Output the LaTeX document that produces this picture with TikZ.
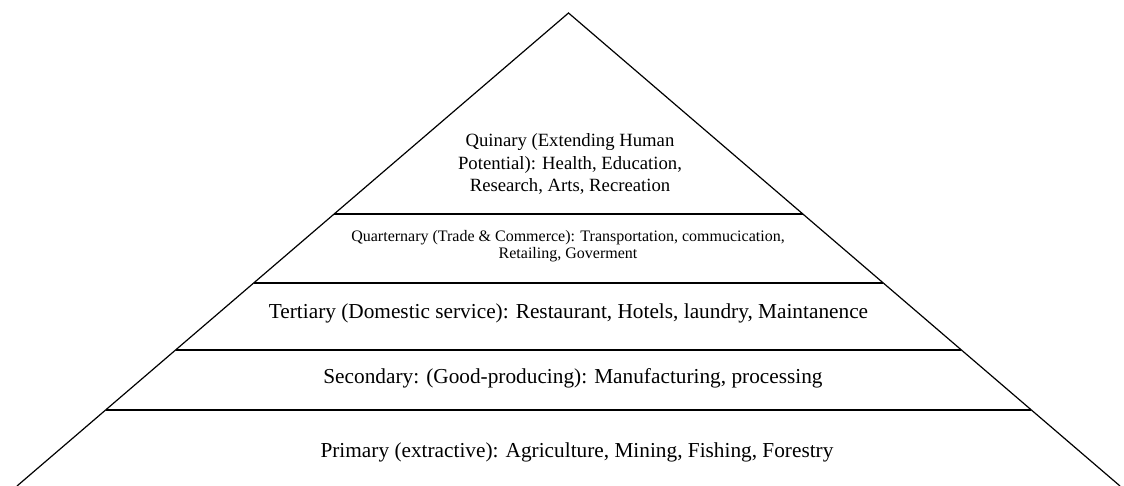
\documentclass[tikz,border=0pt]{standalone}
\usepackage{fontspec}
\setmainfont{Liberation Serif}
\usetikzlibrary{calc}
\begin{document}
\begin{tikzpicture}[x=1pt,y=-1pt,
  side/.style={line width=1.2pt},
  tier/.style={line width=1.6pt},
  bigtext/.style={inner sep=0pt,anchor=base,font=\fontsize{21.3}{25}\selectfont},
  midtext/.style={inner sep=0pt,anchor=base,align=center,font=\fontsize{18.7}{22.5}\selectfont},
  smalltext/.style={inner sep=0pt,anchor=base,align=center,font=\fontsize{16}{17.5}\selectfont}]
\useasboundingbox (0,0) rectangle (1124,486);
\coordinate (apex) at (568.5,13);
\coordinate (bl) at (17,486);
\coordinate (br) at (1120,486);
\draw[side] (bl) -- (apex) -- (br);
\foreach \yy/\nm in {214/a,283/b,350/c,410/d}{
  \coordinate (\nm L) at ($(apex)!{(\yy-13)/473}!(bl)$);
  \coordinate (\nm R) at ($(apex)!{(\yy-13)/473}!(br)$);
}
\draw[tier] (aL) -- (aR);
\draw[tier] (bL) -- (bR);
\draw[tier] (cL) -- (cR);
\draw[tier] (dL) -- (dR);
\node[midtext] (quinary) at (570,192) {Quinary (Extending Human\\Potential): Health, Education,\\Research, Arts, Recreation};
\node[smalltext] (quaternary) at (568,259) {Quarternary (Trade \& Commerce): Transportation, commucication,\\Retailing, Goverment};
\node[bigtext] (tertiary) at (568.5,319) {Tertiary (Domestic service): Restaurant, Hotels, laundry, Maintanence};
\node[bigtext] (secondary) at (573,383) {Secondary: (Good-producing): Manufacturing, processing};
\node[bigtext] (primary) at (577,457) {Primary (extractive): Agriculture, Mining, Fishing, Forestry};
\end{tikzpicture}
\end{document}
